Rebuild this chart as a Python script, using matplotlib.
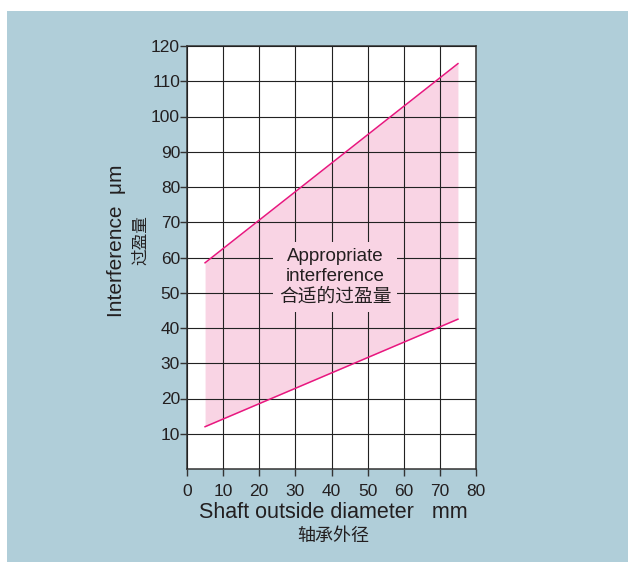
import matplotlib.pyplot as plt
from matplotlib.patches import Rectangle

plt.rcParams['font.family'] = ['Liberation Sans', 'Noto Sans CJK SC']

# shaft diameter range and interference bounds (um)
shaft_d = [5, 75]
upper = [58.5, 115]
lower = [12, 42.5]

x_ticks = [0, 10, 20, 30, 40, 50, 60, 70, 80]
y_ticks = [10, 20, 30, 40, 50, 60, 70, 80, 90, 100, 110, 120]

text_c = '#231f20'
line_c = '#e8177f'
fill_c = '#f9d4e4'
panel_c = '#b0ced9'

fig = plt.figure(figsize=(6.28, 5.62), dpi=100)
fig.patch.set_facecolor('white')
fig.patches.append(Rectangle((7 / 628, 0), 1, 551 / 562, transform=fig.transFigure,
                             facecolor=panel_c, edgecolor='none', zorder=-10))

ax = fig.add_axes([187 / 628, 93 / 562, 289 / 628, 423 / 562])
ax.set_facecolor('white')

ax.fill_between(shaft_d, lower, upper, color=fill_c, lw=0, zorder=1)
ax.plot(shaft_d, upper, color=line_c, lw=1.1, zorder=3)
ax.plot(shaft_d, lower, color=line_c, lw=1.1, zorder=3)

ax.set_xlim(0, 80)
ax.set_ylim(0, 120)
ax.set_xticks(x_ticks)
ax.set_yticks(y_ticks)
ax.grid(True, color='#222222', lw=0.8, zorder=2)
ax.set_axisbelow(False)
for s in ax.spines.values():
    s.set_color('#333333')
    s.set_linewidth(1.1)
ax.tick_params(axis='x', direction='out', length=5, width=1, color='#333333',
               labelsize=12.5, labelcolor=text_c, pad=6)
ax.tick_params(axis='y', direction='out', length=5, width=1, color='#333333',
               labelsize=12.5, labelcolor=text_c, pad=0)

ax.text(41, 54.5, 'Appropriate\ninterference\n合适的过盈量', ha='center', va='center',
        fontsize=13.5, color=text_c, linespacing=1.25, zorder=4,
        bbox=dict(boxstyle='square,pad=0.3', facecolor=fill_c, edgecolor='none'))

# axis titles, English with Chinese below
fig.text(333 / 628, 1 - 512 / 562, 'Shaft outside diameter   mm', ha='center', va='center',
         fontsize=15.5, color=text_c)
fig.text(333 / 628, 1 - 536 / 562, '轴承外径', ha='center', va='center',
         fontsize=13, color=text_c)
fig.text(117 / 628, 1 - 241 / 562, 'Interference  μm', ha='center', va='center',
         rotation=90, fontsize=15, color=text_c)
fig.text(140 / 628, 1 - 240 / 562, '过盈量', ha='center', va='center',
         rotation=90, fontsize=12, color=text_c)

fig.savefig('out.png', dpi=100)
